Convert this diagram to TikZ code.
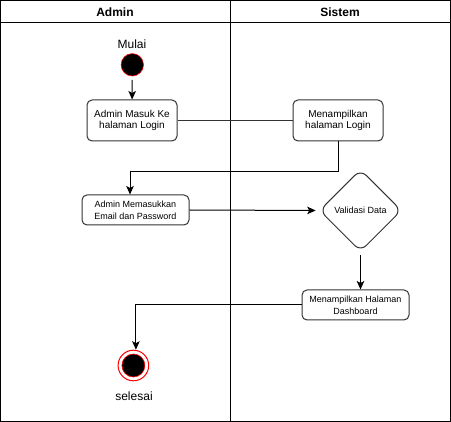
\documentclass[tikz,border=0pt]{standalone}
\usepackage{fontspec}
\setmainfont{Liberation Sans}
\usetikzlibrary{arrows.meta,shapes.geometric}
\definecolor{boxline}{HTML}{333333}
\tikzset{
  x=1pt, y=-1pt,
  lane/.style={draw=black, line width=1pt},
  actbox/.style={draw=boxline, line width=1pt, rounded corners=5pt, fill=white,
    align=center, inner sep=0pt},
  decis/.style={diamond, draw=boxline, line width=1pt, rounded corners=8pt,
    minimum width=82pt, minimum height=82pt, inner sep=0pt, aspect=1, align=center},
  arr/.style={draw=black, line width=1pt, -{Stealth[length=8.5pt,width=7.5pt,inset=2pt]}},
  plain/.style={draw=boxline, line width=1pt},
  f10/.style={font=\fontsize{10}{11.6}\selectfont},
  f9/.style={font=\fontsize{9}{11.6}\selectfont},
  f12/.style={font=\fontsize{12}{14}\selectfont},
  hdr/.style={font=\fontsize{12}{14}\selectfont\bfseries},
}
\begin{document}
\begin{tikzpicture}
\useasboundingbox (0,0) rectangle (451,422);
% swimlanes
\draw[lane] (0.5,0.5) rectangle (450.5,421.5);
\draw[lane] (0.5,23) -- (450.5,23);
\draw[lane] (230,0.5) -- (230,421.5);
\node[hdr] (hA) at (115,12) {Admin};
\node[hdr] (hS) at (340,12) {Sistem};
% start
\node[f12] (mulai) at (132,44) {Mulai};
\node[circle, fill=black, draw=red, line width=0.6pt, minimum size=22.4pt, inner sep=0pt] (start) at (132.3,64.8) {};
% boxes
\node[actbox, f10, minimum width=90pt, minimum height=41pt] (b1) at (132,120.5) {Admin Masuk Ke\\halaman Login};
\node[actbox, f10, minimum width=90pt, minimum height=41pt] (b2) at (338,120.5) {Menampilkan\\halaman Login};
\node[actbox, f9, minimum width=107pt, minimum height=30pt] (b3) at (135.5,210) {Admin Memasukkan\\Email dan Password};
\node[decis, f9] (dv) at (360.5,210.5) {Validasi Data};
\node[actbox, f9, minimum width=107pt, minimum height=30pt] (b4) at (355.5,305) {Menampilkan Halaman\\Dashboard};
% end
\node[circle, draw=red, fill=white, line width=1pt, minimum size=30.6pt, inner sep=0pt] (endo) at (133.4,365.5) {};
\node[circle, fill=black, draw=red, line width=0.6pt, minimum size=23pt, inner sep=0pt] (endi) at (endo.center) {};
\node[f12] (selesai) at (134,396) {selesai};
% connectors
\draw[arr, shorten <=3.5pt] (start) -- (b1);
\draw[plain] (b1) -- (b2);
\draw[arr] (b2.south) -- ++(0,30) -| ([xshift=-5.5pt]b3.north);
\draw[arr, shorten >=3.3pt] (b3.east) -- (dv.west);
\draw[arr, shorten <=3.3pt] (dv.south) -- (dv.south |- b4.north);
\draw[arr] (b4.west) -| ([xshift=2.5pt]endo.north);
\end{tikzpicture}
\end{document}
